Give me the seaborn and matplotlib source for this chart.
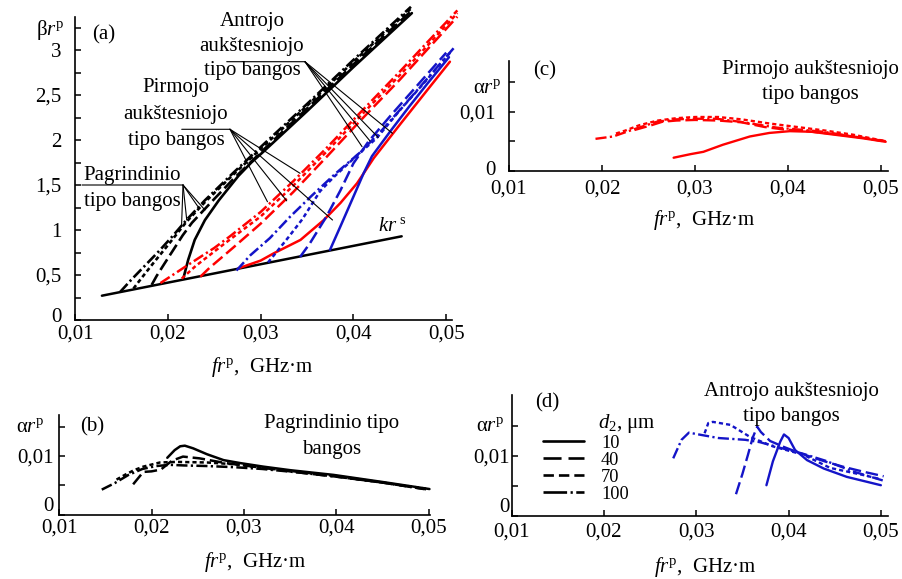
import matplotlib
matplotlib.use("Agg")
import matplotlib.pyplot as plt
import seaborn as sns
import pandas as pd
from matplotlib.lines import Line2D
from matplotlib.ticker import FixedLocator, FuncFormatter
from matplotlib.transforms import ScaledTranslation

# ---------------- data ----------------
d2_values = [10, 40, 70, 100]
d2_labels = ["10", "40", "70", "100"]

# (a) kr^s light line
kr_x = [0.0129, 0.0452]
kr_y = [0.27, 0.93]

# (a) fundamental mode (black)
a_blk_x = {
    10: [0.02167, 0.0222, 0.0229, 0.0240, 0.0255, 0.0276, 0.029, 0.0303, 0.035, 0.040, 0.0463],
    40: [0.01826, 0.0188, 0.0196, 0.0206, 0.0216, 0.0226, 0.0245, 0.027, 0.0303, 0.035, 0.040, 0.0463],
    70: [0.0163, 0.0172, 0.0185, 0.020, 0.021, 0.022, 0.024, 0.027, 0.0303, 0.035, 0.040, 0.0462],
    100: [0.01485, 0.016, 0.0175, 0.019, 0.0205, 0.022, 0.024, 0.027, 0.0303, 0.035, 0.040, 0.0462],
}
a_blk_y = {
    10: [0.46, 0.67, 0.89, 1.11, 1.33, 1.60, 1.75, 1.87, 2.32, 2.81, 3.41],
    40: [0.39, 0.49, 0.62, 0.78, 0.94, 1.08, 1.29, 1.56, 1.89, 2.35, 2.84, 3.44],
    70: [0.35, 0.47, 0.64, 0.83, 0.96, 1.09, 1.31, 1.61, 1.93, 2.38, 2.87, 3.46],
    100: [0.31, 0.44, 0.60, 0.76, 0.93, 1.11, 1.33, 1.63, 1.95, 2.40, 2.89, 3.48],
}
# (a) first higher mode (red)
a_red_x = {
    10: [0.0276, 0.0300, 0.0314, 0.0343, 0.0368, 0.0386, 0.0404, 0.0422, 0.045, 0.048, 0.0504],
    40: [0.0235, 0.0245, 0.027, 0.030, 0.0335, 0.037, 0.0407, 0.045, 0.048, 0.0512],
    70: [0.0215, 0.023, 0.026, 0.030, 0.0335, 0.037, 0.0407, 0.045, 0.048, 0.0512],
    100: [0.0192, 0.022, 0.025, 0.0267, 0.030, 0.0335, 0.037, 0.0407, 0.045, 0.048, 0.0512],
}
a_red_y = {
    10: [0.574, 0.66, 0.74, 0.89, 1.11, 1.30, 1.52, 1.80, 2.17, 2.56, 2.87],
    40: [0.48, 0.58, 0.80, 1.07, 1.42, 1.80, 2.21, 2.67, 3.01, 3.37],
    70: [0.46, 0.60, 0.84, 1.15, 1.49, 1.86, 2.26, 2.72, 3.05, 3.41],
    100: [0.41, 0.60, 0.80, 0.93, 1.20, 1.54, 1.90, 2.30, 2.76, 3.09, 3.44],
}
# (a) second higher mode (blue)
a_blu_x = {
    10: [0.03748, 0.0386, 0.0400, 0.0411, 0.0420, 0.0440, 0.046, 0.048, 0.0503],
    40: [0.03425, 0.0353, 0.0371, 0.0386, 0.0400, 0.0416, 0.044, 0.047, 0.0500],
    70: [0.0308, 0.0316, 0.033, 0.0345, 0.0364, 0.0378, 0.0404, 0.0425, 0.045, 0.048, 0.0505],
    100: [0.0274, 0.0289, 0.0310, 0.0332, 0.0355, 0.0380, 0.0407, 0.0430, 0.046, 0.0508],
}
a_blu_y = {
    10: [0.78, 1.04, 1.37, 1.63, 1.82, 2.10, 2.37, 2.63, 2.92],
    40: [0.70, 0.85, 1.15, 1.44, 1.74, 1.98, 2.27, 2.62, 2.97],
    70: [0.64, 0.74, 0.92, 1.12, 1.43, 1.58, 1.83, 2.02, 2.33, 2.68, 2.98],
    100: [0.55, 0.72, 0.91, 1.15, 1.38, 1.62, 1.86, 2.10, 2.45, 3.02],
}

# (b) attenuation, fundamental mode
b_x = {
    10: [0.0217, 0.0225, 0.0231, 0.0236, 0.0245, 0.026, 0.0278, 0.0296, 0.0321, 0.035, 0.0397, 0.045, 0.0501],
    40: [0.0180, 0.0191, 0.0200, 0.0210, 0.0222, 0.0234, 0.0252, 0.028, 0.032, 0.036, 0.040, 0.045, 0.0495],
    70: [0.0162, 0.0171, 0.0181, 0.0191, 0.0209, 0.0227, 0.0260, 0.0290, 0.032, 0.036, 0.040, 0.045, 0.0500],
    100: [0.0146, 0.0160, 0.0175, 0.0190, 0.0205, 0.022, 0.0235, 0.026, 0.029, 0.032, 0.036, 0.040, 0.045, 0.0500],
}
b_y = {
    10: [0.0097, 0.0110, 0.01165, 0.01175, 0.0113, 0.0103, 0.0093, 0.0088, 0.0082, 0.0076, 0.0068, 0.0056, 0.0044],
    40: [0.0052, 0.0073, 0.0074, 0.0077, 0.0092, 0.0099, 0.0096, 0.0088, 0.0080, 0.0072, 0.0065, 0.0055, 0.0044],
    70: [0.0060, 0.0068, 0.0076, 0.0082, 0.0089, 0.0090, 0.0089, 0.0086, 0.0080, 0.0073, 0.0066, 0.0055, 0.0044],
    100: [0.0043, 0.0054, 0.0068, 0.0078, 0.0083, 0.0085, 0.0084, 0.0083, 0.0081, 0.0078, 0.0072, 0.0065, 0.0055, 0.0043],
}

# (c) attenuation, first higher mode
c_x = {
    10: [0.0277, 0.0295, 0.0309, 0.0330, 0.0359, 0.0380, 0.0402, 0.0425, 0.045, 0.048, 0.0505],
    40: [0.0235, 0.0253, 0.0265, 0.028, 0.030, 0.0325, 0.035, 0.0375, 0.0395, 0.042, 0.045, 0.048, 0.0505],
    70: [0.0215, 0.0225, 0.0240, 0.0260, 0.028, 0.030, 0.0325, 0.035, 0.038, 0.041, 0.044, 0.047, 0.0505],
    100: [0.0193, 0.0212, 0.0234, 0.0259, 0.0280, 0.0295, 0.0323, 0.0348, 0.0388, 0.0438, 0.0503],
}
c_y = {
    10: [0.0022, 0.0028, 0.0032, 0.0044, 0.0058, 0.0064, 0.0067, 0.0066, 0.0061, 0.0055, 0.0049],
    40: [0.0069, 0.0077, 0.0083, 0.0085, 0.0086, 0.0085, 0.0082, 0.0074, 0.0070, 0.0067, 0.0062, 0.0056, 0.0050],
    70: [0.0063, 0.0068, 0.0077, 0.0085, 0.0089, 0.0091, 0.0091, 0.0087, 0.0080, 0.0074, 0.0068, 0.0061, 0.0050],
    100: [0.0054, 0.0058, 0.0070, 0.0083, 0.0087, 0.0088, 0.0088, 0.0083, 0.0073, 0.0066, 0.0050],
}

# (d) attenuation, second higher mode
d_x = {
    10: [0.0376, 0.0383, 0.0391, 0.0395, 0.0400, 0.0407, 0.0420, 0.0438, 0.0463, 0.0500],
    40: [0.0343, 0.0350, 0.0356, 0.0361, 0.0366, 0.0370, 0.0380, 0.0395, 0.0410, 0.0425, 0.0441, 0.0459, 0.0480, 0.0503],
    70: [0.0309, 0.0313, 0.0318, 0.0337, 0.0358, 0.0383, 0.0416, 0.0445, 0.0481, 0.0500],
    100: [0.0275, 0.0284, 0.0292, 0.0306, 0.0324, 0.0353, 0.0369, 0.0390, 0.0415, 0.0440, 0.0470, 0.0502],
}
d_y = {
    10: [0.0051, 0.0091, 0.0124, 0.0136, 0.0130, 0.0110, 0.0093, 0.0079, 0.0065, 0.0051],
    40: [0.0036, 0.0070, 0.0102, 0.0130, 0.0149, 0.0140, 0.0125, 0.0115, 0.0106, 0.0098, 0.0090, 0.0082, 0.0074, 0.0066],
    70: [0.0138, 0.0155, 0.0157, 0.0152, 0.0132, 0.0116, 0.0102, 0.0080, 0.0068, 0.0061],
    100: [0.0096, 0.0127, 0.0139, 0.0135, 0.0130, 0.0127, 0.0123, 0.0114, 0.0104, 0.0092, 0.0074, 0.0059],
}

x_ticks = [0.01, 0.02, 0.03, 0.04, 0.05]
a_y_ticks = [0, 0.5, 1, 1.5, 2, 2.5, 3]
a_y_minor = [0.25, 0.75, 1.25, 1.75, 2.25, 2.75, 3.25]
att_y_ticks = [0, 0.01]
att_y_minor = [0.005, 0.015]

# ---------------- style ----------------
sns.set_style("ticks")
plt.rcParams.update({
    "font.family": ["Liberation Serif", "DejaVu Serif"],
    "mathtext.fontset": "custom",
    "mathtext.rm": "Liberation Serif",
    "mathtext.it": "Liberation Serif:italic",
    "mathtext.bf": "Liberation Serif:bold",
    "lines.scale_dashes": False,
    "axes.linewidth": 1.2,
    "font.size": 15,
    "text.color": "black",
    "xtick.color": "black",
    "ytick.color": "black",
    "axes.edgecolor": "black",
})
FS = 15
RED = "#ff0000"
BLUE = "#1414c8"
STY = {10: "-", 40: (0, (9, 3.5)), 70: (0, (3.0, 2.2)), 100: (0, (8, 2.4, 1.6, 2.4))}
LEG_STY = {10: "-", 40: (0, (13, 5)), 70: (0, (7.5, 3.6)), 100: (0, (17, 2.5, 1.6, 2.5))}

fmt = FuncFormatter(lambda v, p: f"{v:g}".replace(".", ","))


def draw(ax, x, y, d2, color, lw=1.7):
    df = pd.DataFrame({"x": x, "y": y})
    sns.lineplot(data=df, x="x", y="y", ax=ax, color=color, lw=lw,
                 linestyle=STY[d2], sort=False, estimator=None, errorbar=None,
                 clip_on=False)


def style_axis(ax, yticks, yminor, ypad, xpad, zero_up_px):
    sns.despine(ax=ax)
    ax.set_xlabel("")
    ax.set_ylabel("")
    ax.xaxis.set_major_locator(FixedLocator(x_ticks))
    ax.yaxis.set_major_locator(FixedLocator(yticks))
    ax.yaxis.set_minor_locator(FixedLocator(yminor))
    ax.xaxis.set_major_formatter(fmt)
    ax.yaxis.set_major_formatter(fmt)
    ax.tick_params(axis="both", which="both", direction="in", length=4, width=1.1,
                   labelsize=FS)
    ax.tick_params(axis="y", pad=ypad)
    ax.tick_params(axis="x", pad=xpad)
    ax.set_facecolor("none")
    # the "0" of the y axis sits a little above the x axis line
    lab = ax.yaxis.get_major_ticks()[0].label1
    lab.set_transform(lab.get_transform() +
                      ScaledTranslation(0, zero_up_px / 100, ax.figure.dpi_scale_trans))


fig = plt.figure(figsize=(9.02, 5.79), dpi=100)
fig.patch.set_facecolor("white")

# ---------------- (a) ----------------
axA = fig.add_axes([0.08315, 0.44732, 0.42697, 0.54575])
draw(axA, kr_x, kr_y, 10, "black", lw=1.8)
for d in d2_values:
    draw(axA, a_blk_x[d], a_blk_y[d], d, "black", lw=1.9)
for d in d2_values:
    draw(axA, a_red_x[d], a_red_y[d], d, RED, lw=1.8)
for d in d2_values:
    draw(axA, a_blu_x[d], a_blu_y[d], d, BLUE, lw=1.8)
axA.set_xlim(0.01, 0.0515)
axA.set_ylim(0, 3.511)
style_axis(axA, a_y_ticks, a_y_minor, ypad=9.5, xpad=3.5, zero_up_px=5)
axA.spines["left"].set_bounds(0, 3.37)
axA.spines["bottom"].set_bounds(0.01, 0.0506)

axA.text(0.01313, 3.167, "(a)", ha="center", va="center", fontsize=FS)
axA.text(0.00731, 3.222, "β$r^{\\rm p}$", ha="center", va="center", fontsize=FS)
axA.text(0.04268, 1.037, "$kr^{\\ \\rm s}$", ha="left", va="center", fontsize=FS)

for txt, yy in zip(["Antrojo", "aukštesniojo", "tipo bangos"], [3.322, 3.044, 2.767]):
    axA.text(0.02907, yy, txt, ha="center", va="center", fontsize=FS)
for txt, yy in zip(["Pirmojo", "aukštesniojo", "tipo bangos"], [2.578, 2.278, 2.0]):
    axA.text(0.02088, yy, txt, ha="center", va="center", fontsize=FS)
for txt, yy in zip(["Pagrindinio", "tipo bangos"], [1.611, 1.322]):
    axA.text(0.01614, yy, txt, ha="center", va="center", fontsize=FS)

lead = dict(arrowstyle="-", lw=0.8, color="black", shrinkA=0, shrinkB=0)
groups = [
    ((0.02635, 2.87), (0.03478, 2.87),
     [(0.04093, 1.926), (0.04179, 1.989), (0.04268, 2.028), (0.04421, 2.074)]),
    ((0.0215, 2.119), (0.0267, 2.119),
     [(0.03074, 1.314), (0.03281, 1.324), (0.03425, 1.630), (0.03775, 1.111)]),
    ((0.01075, 1.50), (0.02164, 1.50),
     [(0.02148, 1.044), (0.02204, 1.111), (0.0232, 1.267), (0.0240, 1.222)]),
]
for start, origin, ends in groups:
    axA.annotate("", xy=origin, xytext=start, arrowprops=lead)
    for e in ends:
        axA.annotate("", xy=e, xytext=origin, arrowprops=lead)

xl = "$fr^{\\rm p}$,  GHz·m"
fig.text(262.5 / 902, 1 - 366.7 / 579, xl, ha="center", va="center", fontsize=FS)

# ---------------- (c) ----------------
axC = fig.add_axes([0.56430, 0.70518, 0.42018, 0.18998])
for d in d2_values:
    draw(axC, c_x[d], c_y[d], d, RED)
axC.set_xlim(0.01, 0.05075)
axC.set_ylim(0, 0.01864)
style_axis(axC, att_y_ticks, att_y_minor, ypad=9.5, xpad=6.5, zero_up_px=3)
axC.text(0.01387, 0.01695, "(c)", ha="center", va="center", fontsize=FS)
axC.text(0.00769, 0.01397, "α$r^{\\rm p}$", ha="center", va="center", fontsize=FS)
axC.text(0.04237, 0.01719, "Pirmojo aukštesniojo", ha="center", va="center", fontsize=FS)
axC.text(0.04237, 0.01283, "tipo bangos", ha="center", va="center", fontsize=FS)
fig.text(704 / 902, 1 - 220 / 579, xl, ha="center", va="center", fontsize=FS)

# ---------------- (b) ----------------
axB = fig.add_axes([0.06574, 0.11054, 0.41098, 0.17271])
for d in d2_values:
    draw(axB, b_x[d], b_y[d], d, "black", lw=1.8)
axB.set_xlim(0.01, 0.05016)
axB.set_ylim(0, 0.01695)
style_axis(axB, att_y_ticks, att_y_minor, ypad=4, xpad=2.5, zero_up_px=11)
axB.text(0.01354, 0.01486, "(b)", ha="center", va="center", fontsize=FS)
axB.text(0.00691, 0.01486, "α$r^{\\rm p}$", ha="center", va="center", fontsize=FS)
axB.text(0.03951, 0.01554, "Pagrindinio tipo", ha="center", va="center", fontsize=FS)
axB.text(0.03951, 0.01102, "bangos", ha="center", va="center", fontsize=FS)
fig.text(255.7 / 902, 1 - 561.7 / 579, xl, ha="center", va="center", fontsize=FS)

# ---------------- (d) ----------------
axD = fig.add_axes([0.56729, 0.10933, 0.41718, 0.20846])
for d in d2_values:
    draw(axD, d_x[d], d_y[d], d, BLUE)
axD.set_xlim(0.01, 0.05077)
axD.set_ylim(0, 0.0202)
style_axis(axD, att_y_ticks, att_y_minor, ypad=1.5, xpad=5, zero_up_px=11)
axD.text(0.01388, 0.01883, "(d)", ha="center", va="center", fontsize=FS)
axD.text(0.00765, 0.01491, "α$r^{\\rm p}$", ha="center", va="center", fontsize=FS)
axD.text(0.04034, 0.02077, "Antrojo aukštesniojo", ha="center", va="center",
         fontsize=FS, clip_on=False)
axD.text(0.04034, 0.01658, "tipo bangos", ha="center", va="center", fontsize=FS)
axD.text(0.01938, 0.01548, "$d_2$, μm", ha="left", va="center", fontsize=FS)
handles = [Line2D([], [], color="black", lw=1.9, linestyle=LEG_STY[d]) for d in d2_values]
axD.legend(handles=handles, labels=d2_labels, loc="upper left",
           bbox_to_anchor=(0.084, 0.672), frameon=False, handlelength=2.2,
           handletextpad=0.95, labelspacing=0.0, borderpad=0, borderaxespad=0,
           fontsize=13.2)
fig.text(705 / 902, 1 - 566.7 / 579, xl, ha="center", va="center", fontsize=FS)

fig.savefig("out.png", dpi=100, facecolor="white")
